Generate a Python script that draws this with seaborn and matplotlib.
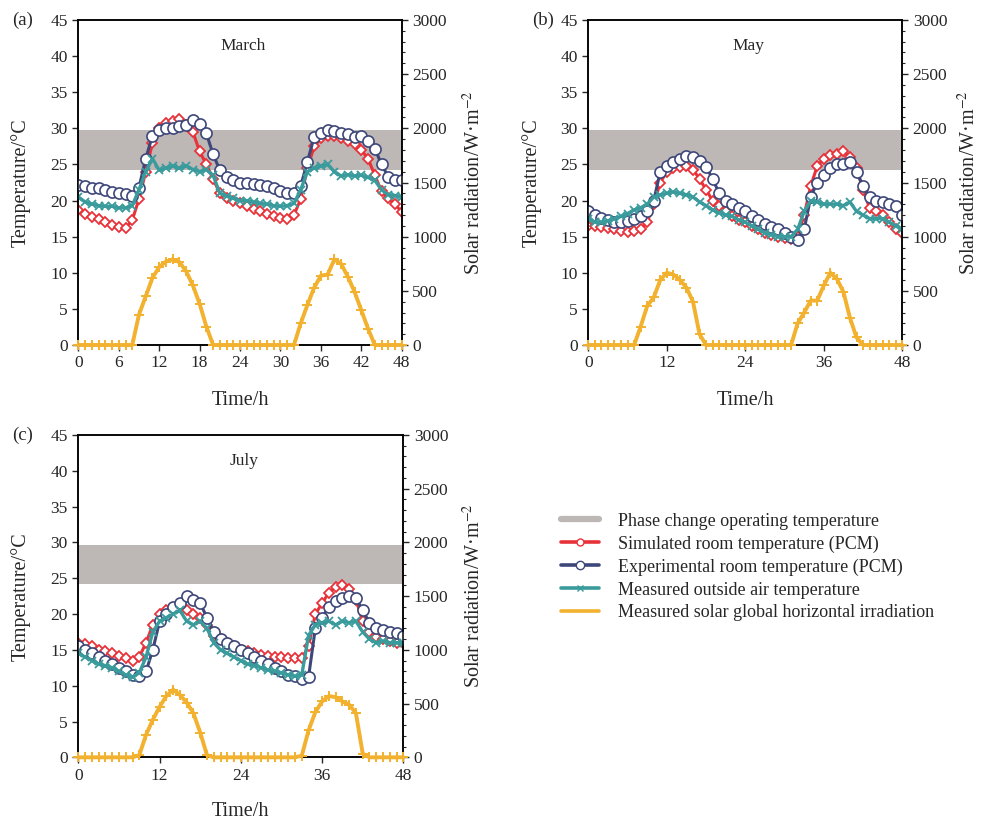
"""
Room, outside air and solar data for a PCM test room in three months.
"""

import matplotlib.pyplot as plt
import pandas as pd
import seaborn as sns
from matplotlib.lines import Line2D
from matplotlib.ticker import MultipleLocator


HOURS = list(range(49))

MARCH_SIMULATED = [
    18.7, 18.2, 17.7, 17.4, 17.0, 16.6, 16.3, 16.2, 17.3, 20.2,
    24.0, 28.0, 30.0, 30.8, 31.0, 31.3, 30.5, 29.5, 26.8, 25.0,
    23.0, 21.0, 20.4, 20.0, 19.6, 19.2, 18.8, 18.5, 18.2, 17.9,
    17.6, 17.5, 18.0, 20.2, 24.5, 27.5, 28.6, 29.0, 29.0, 28.7,
    28.3, 27.8, 27.0, 25.8, 23.5, 21.3, 20.3, 19.5, 18.4,
]
MARCH_EXPERIMENTAL = [
    22.2, 22.0, 21.8, 21.7, 21.5, 21.2, 21.0, 20.9, 20.7, 21.8,
    25.8, 29.0, 29.8, 30.0, 30.0, 30.3, 30.5, 31.2, 30.6, 29.3,
    26.4, 24.2, 23.2, 22.8, 22.5, 22.4, 22.3, 22.2, 22.0, 21.7,
    21.3, 21.1, 21.0, 22.0, 25.4, 28.8, 29.3, 29.8, 29.6, 29.4,
    29.2, 28.8, 29.0, 28.3, 27.2, 25.0, 23.3, 22.9, 22.8,
]
MARCH_OUTSIDE = [
    20.5, 19.8, 19.5, 19.3, 19.2, 19.2, 19.0, 19.0, 19.3, 21.5,
    24.0, 25.8, 24.2, 24.5, 24.8, 24.5, 24.8, 24.3, 24.0, 24.3,
    23.5, 21.0, 20.6, 20.3, 20.0, 20.0, 19.8, 19.6, 19.5, 19.3,
    19.2, 19.3, 19.6, 21.5, 24.0, 24.5, 24.8, 25.0, 24.0, 23.4,
    23.6, 23.4, 23.5, 23.2, 22.8, 21.5, 20.8, 20.7, 20.5,
]
MARCH_SOLAR = [
    0, 0, 0, 0, 0, 0, 0, 0, 0, 280,
    450, 620, 720, 770, 790, 765, 680, 550, 380, 170,
    0, 0, 0, 0, 0, 0, 0, 0, 0, 0,
    0, 0, 0, 200, 370, 530, 640, 650, 790, 750,
    630, 490, 320, 150, 0, 0, 0, 0, 0,
]

MAY_SIMULATED = [
    16.5, 16.5, 16.3, 16.2, 16.0, 15.8, 15.7, 15.8, 16.0, 17.0,
    19.5, 22.5, 24.0, 24.5, 24.6, 24.8, 24.3, 23.0, 21.5, 20.0,
    19.2, 18.5, 17.8, 17.3, 17.0, 16.5, 16.0, 15.5, 15.2, 15.0,
    14.8, 14.7, 15.0, 18.0, 22.0, 24.8, 25.8, 26.3, 26.5, 26.8,
    26.0, 24.5, 21.5, 19.0, 18.5, 18.0, 17.0, 16.0, 15.5,
]
MAY_EXPERIMENTAL = [
    18.5, 18.0, 17.6, 17.3, 17.0, 17.0, 17.2, 17.5, 17.8, 18.5,
    20.0, 24.0, 24.8, 25.3, 25.8, 26.2, 26.0, 25.5, 24.7, 23.0,
    21.0, 20.0, 19.5, 19.0, 18.5, 17.8, 17.3, 16.8, 16.3, 16.0,
    15.5, 15.0, 14.5, 16.0, 20.5, 22.5, 23.5, 24.5, 25.0, 25.0,
    25.3, 24.0, 22.0, 20.5, 20.0, 19.8, 19.5, 19.3, 18.0,
]
MAY_OUTSIDE = [
    17.5, 17.0, 17.0, 17.2, 17.5, 17.8, 18.2, 18.7, 19.0, 19.5,
    20.5, 20.8, 21.0, 21.2, 21.0, 20.8, 20.5, 19.8, 19.3, 18.7,
    18.3, 18.0, 17.8, 17.3, 17.0, 16.5, 16.0, 15.5, 15.3, 15.0,
    15.0, 15.0, 16.0, 18.5, 20.0, 19.8, 19.5, 19.5, 19.5, 19.3,
    19.8, 18.5, 18.0, 17.5, 17.5, 17.5, 17.0, 16.5, 16.0,
]
MAY_SOLAR = [
    0, 0, 0, 0, 0, 0, 0, 0, 170, 360,
    440, 600, 667, 650, 600, 530, 400, 100, 0, 0,
    0, 0, 0, 0, 0, 0, 0, 0, 0, 0,
    0, 0, 200, 300, 410, 410, 550, 667, 610, 490,
    250, 70, 0, 0, 0, 0, 0, 0, 0,
]

JULY_SIMULATED = [
    16.0, 15.8, 15.5, 15.0, 14.8, 14.5, 14.2, 13.8, 13.5, 14.0,
    16.0, 18.5, 20.0, 20.5, 20.8, 21.0, 20.5, 20.0, 19.5, 18.5,
    17.0, 16.5, 16.0, 15.5, 15.0, 14.8, 14.5, 14.3, 14.2, 14.0,
    14.0, 13.8, 13.8, 13.8, 15.5, 20.0, 21.5, 23.0, 23.8, 24.0,
    23.5, 22.0, 19.0, 17.5, 16.8, 16.5, 16.2, 16.0, 16.0,
]
JULY_EXPERIMENTAL = [
    15.5, 15.0, 14.5, 14.0, 13.5, 13.0, 12.5, 12.0, 11.5, 11.3,
    12.0, 15.0, 19.0, 20.0, 21.0, 21.5, 22.5, 22.0, 21.5, 19.5,
    17.5, 16.5, 16.0, 15.5, 15.0, 14.5, 14.0, 13.5, 13.0, 12.5,
    12.0, 11.5, 11.3, 11.0, 11.2, 18.0, 19.5, 21.0, 21.8, 22.2,
    22.5, 22.3, 20.5, 18.8, 18.0, 17.8, 17.5, 17.3, 17.0,
]
JULY_OUTSIDE = [
    14.5, 14.0, 13.5, 13.0, 12.8, 12.5, 12.0, 11.5, 11.2, 11.8,
    14.0, 17.5, 19.0, 19.5, 20.0, 20.5, 19.0, 18.5, 19.0, 18.0,
    16.0, 15.0, 14.5, 14.0, 13.5, 13.0, 12.8, 12.5, 12.2, 12.0,
    11.8, 11.5, 11.3, 11.5, 17.0, 18.5, 18.8, 19.0, 18.5, 19.0,
    18.8, 19.0, 17.5, 16.5, 16.0, 16.2, 16.0, 16.0, 16.0,
]
JULY_SOLAR = [
    0, 0, 0, 0, 0, 0, 0, 0, 0, 20,
    210, 350, 470, 570, 630, 580, 510, 410, 230, 20,
    0, 0, 0, 0, 0, 0, 0, 0, 0, 0,
    0, 0, 0, 15, 250, 420, 520, 570, 560, 520,
    490, 410, 35, 0, 0, 0, 0, 0, 0,
]

PHASE_CHANGE_RANGE = (24.2, 29.7)

PANELS = [
    ("(a)", "March", [6, 12, 18, 24, 30, 36, 42, 48]),
    ("(b)", "May", [12, 24, 36, 48]),
    ("(c)", "July", [12, 24, 36, 48]),
]

SERIES_LABELS = [
    "Phase change operating temperature",
    "Simulated room temperature (PCM)",
    "Experimental room temperature (PCM)",
    "Measured outside air temperature",
    "Measured solar global horizontal irradiation",
]

BAND_COLOR = "#bdb7b5"
RED = "#e8323a"
NAVY = "#3d4779"
TEAL = "#3a9b9c"
ORANGE = "#f2b12e"


def build_dataframe(simulated, experimental, outside, solar) -> pd.DataFrame:
    """
    Puts one month of hourly data in a table.
    """
    return pd.DataFrame({
        "Hour": HOURS,
        "Simulated": simulated,
        "Experimental": experimental,
        "Outside": outside,
        "Solar": solar,
    })


def draw_panel(ax, month_df, panel_label, month, xticks, fig,
               right_label_x) -> None:
    """
    Draws one month: band, temperatures and solar radiation.
    """
    ax.axhspan(*PHASE_CHANGE_RANGE, color=BAND_COLOR, lw=0, zorder=0)

    sns.lineplot(
        data=month_df, x="Hour", y="Simulated", ax=ax,
        color=RED, lw=2.2, marker="D", markersize=5.5,
        markerfacecolor="white", markeredgecolor=RED,
        markeredgewidth=1.3, zorder=2
    )
    sns.lineplot(
        data=month_df, x="Hour", y="Experimental", ax=ax,
        color=NAVY, lw=2.2, marker="o", markersize=8,
        markerfacecolor="white", markeredgecolor=NAVY,
        markeredgewidth=1.2, zorder=3
    )
    sns.lineplot(
        data=month_df, x="Hour", y="Outside", ax=ax,
        color=TEAL, lw=2.4, marker="x", markersize=6,
        markeredgecolor=TEAL, markeredgewidth=1.3, zorder=4
    )

    ax.set_xlim(0, 48)
    ax.set_ylim(0, 45)
    ax.set_xticks([0] + xticks)
    ax.yaxis.set_major_locator(MultipleLocator(5))
    ax.set_xlabel("Time/h", fontsize=14.5)
    ax.set_ylabel("Temperature/°C", fontsize=14.5)
    ax.xaxis.set_label_coords(0.5, -0.14)
    ax.yaxis.set_label_coords(-0.148, 0.5)
    ax.tick_params(labelsize=12.5, length=4, width=1, direction="out")
    ax.text(0.51, 0.92, month, transform=ax.transAxes,
            ha="center", va="center", fontsize=12.5)

    solar_ax = ax.twinx()
    sns.lineplot(
        data=month_df, x="Hour", y="Solar", ax=solar_ax,
        color=ORANGE, lw=2.8, marker="+", markersize=7,
        markeredgecolor=ORANGE, markeredgewidth=1.4,
        clip_on=False, zorder=5
    )
    solar_ax.set_ylim(0, 3000)
    solar_ax.yaxis.set_major_locator(MultipleLocator(500))
    solar_ax.yaxis.set_minor_locator(MultipleLocator(100))
    solar_ax.set_ylabel("Solar radiation/W·m$^{-2}$", fontsize=14.5)
    solar_ax.yaxis.set_label_coords(right_label_x, 0.5)
    solar_ax.tick_params(labelsize=12.5, length=4, width=1)
    solar_ax.tick_params(which="minor", length=2.5, width=0.8)
    solar_ax.set_xlim(0, 48)

    for spine in list(ax.spines.values()) + list(solar_ax.spines.values()):
        spine.set_linewidth(1.1)
        spine.set_color("black")

    box = ax.get_position()
    label_x = 0.541 if panel_label == "(b)" else 0.012
    fig.text(label_x, box.y1, panel_label, ha="left", va="center",
             fontsize=13.5)


def main() -> None:
    """
    Main execution function.
    """
    sns.set_style("ticks")
    plt.rcParams["font.family"] = ["Liberation Serif", "DejaVu Serif"]
    plt.rcParams["mathtext.fontset"] = "stix"

    months = [
        build_dataframe(MARCH_SIMULATED, MARCH_EXPERIMENTAL,
                        MARCH_OUTSIDE, MARCH_SOLAR),
        build_dataframe(MAY_SIMULATED, MAY_EXPERIMENTAL,
                        MAY_OUTSIDE, MAY_SOLAR),
        build_dataframe(JULY_SIMULATED, JULY_EXPERIMENTAL,
                        JULY_OUTSIDE, JULY_SOLAR),
    ]

    fig = plt.figure(figsize=(9.83, 8.23), dpi=100)
    positions = [
        [0.0797, 0.5808, 0.329, 0.3949],
        [0.5985, 0.5808, 0.3194, 0.3949],
        [0.0797, 0.0798, 0.3306, 0.3917],
    ]
    right_label_positions = [1.19, 1.178, 1.185]

    for (label, month, xticks), month_df, pos, right_x in zip(
        PANELS, months, positions, right_label_positions
    ):
        ax = fig.add_axes(pos)
        draw_panel(ax, month_df, label, month, xticks, fig, right_x)

    handles = [
        Line2D([], [], color=BAND_COLOR, lw=4.5),
        Line2D([], [], color=RED, lw=2.6, marker="o", markersize=5,
               markerfacecolor="white", markeredgecolor=RED),
        Line2D([], [], color=NAVY, lw=2.6, marker="o", markersize=6,
               markerfacecolor="white", markeredgecolor=NAVY),
        Line2D([], [], color=TEAL, lw=2.6, marker="x", markersize=5,
               markeredgecolor=TEAL),
        Line2D([], [], color=ORANGE, lw=2.6),
    ]
    fig.legend(
        handles, SERIES_LABELS, loc="upper left",
        bbox_to_anchor=(0.563, 0.386), frameon=False,
        fontsize=13, handlelength=2.1, handletextpad=1.1,
        labelspacing=0.32, borderaxespad=0
    )

    fig.savefig("out.png", dpi=100)
    plt.close(fig)


if __name__ == "__main__":
    main()
